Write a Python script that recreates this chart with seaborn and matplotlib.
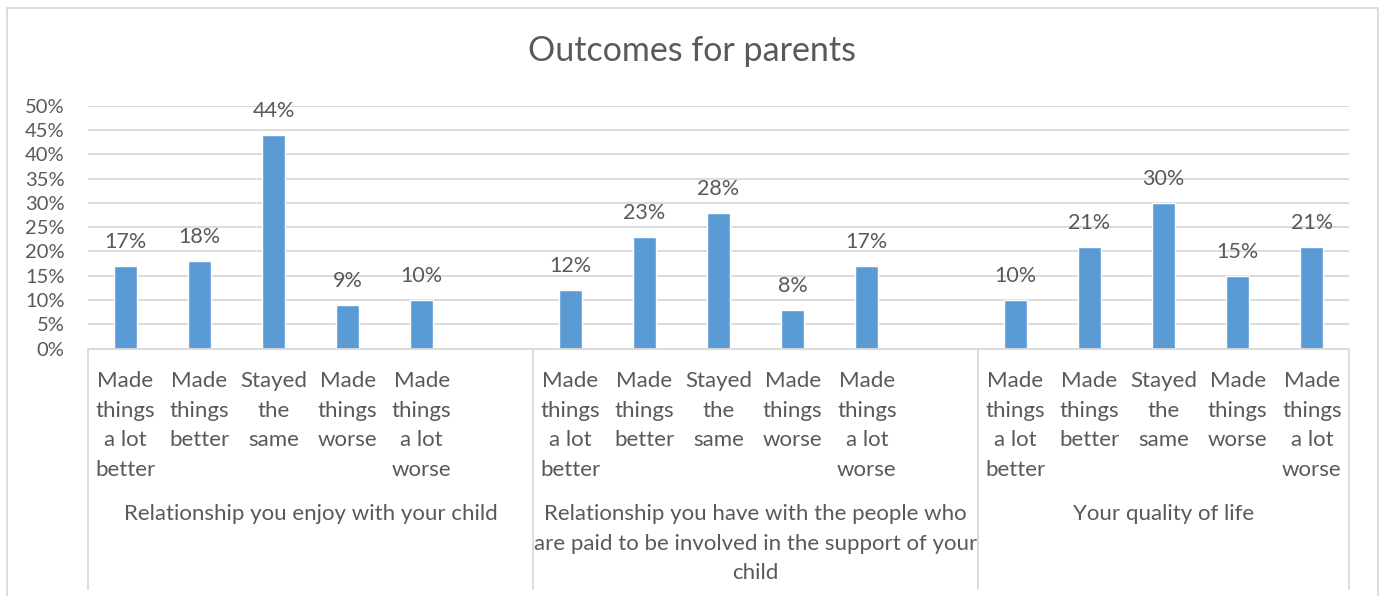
import matplotlib
matplotlib.use("Agg")
import matplotlib.pyplot as plt
import matplotlib.transforms as mtransforms
from matplotlib.lines import Line2D
import seaborn as sns
import pandas as pd

# Survey results (percent of parents)
groups = [
    "Relationship you enjoy with your child",
    "Relationship you have with the people who\nare paid to be involved in the support of your\nchild",
    "Your quality of life",
]
responses = [
    "Made\nthings\na lot\nbetter",
    "Made\nthings\nbetter",
    "Stayed\nthe\nsame",
    "Made\nthings\nworse",
    "Made\nthings\na lot\nworse",
]
values_child = [17, 18, 44, 9, 10]
values_support = [12, 23, 28, 8, 17]
values_quality = [10, 21, 30, 15, 21]
y_ticks = [0, 5, 10, 15, 20, 25, 30, 35, 40, 45, 50]
title = "Outcomes for parents"

sns.set_theme(style="white")
plt.rcParams["font.family"] = ["Lato", "DejaVu Sans"]

TEXT = "#595959"
GRID = "#D9D9D9"
BAR = "#5B9BD5"

# Long-form table; a blank slot follows each group except the last
rows, order = [], []
for gi, (grp, vals) in enumerate(zip(groups, [values_child, values_support, values_quality])):
    for ri, (resp, v) in enumerate(zip(responses, vals)):
        key = f"{gi}-{ri}"
        rows.append({"slot": key, "value": v / 100, "group": grp, "response": resp})
        order.append(key)
    if gi < len(groups) - 1:
        order.append(f"{gi}-gap")
df = pd.DataFrame(rows)

W, H = 1383, 596
fig = plt.figure(figsize=(W / 100, H / 100), dpi=100)
fig.patch.set_facecolor("white")
ax_left, ax_right, ax_bottom, ax_top = 88, 1349, 348.5, 105.7
ax = fig.add_axes([ax_left / W, 1 - ax_bottom / H, (ax_right - ax_left) / W, (ax_bottom - ax_top) / H])

sns.barplot(data=df, x="slot", y="value", order=order, color=BAR, width=0.31,
            saturation=1, errorbar=None, ax=ax, zorder=3)

ax.set_xlim(-0.5, len(order) - 0.5)
ax.set_ylim(0, 0.5)
ax.set_yticks([t / 100 for t in y_ticks])
ax.set_yticklabels([f"{t}%" for t in y_ticks], color=TEXT, fontsize=14.5)
ax.tick_params(axis="y", length=0, pad=17)
ax.set_xticks([])
ax.set_xlabel("")
ax.set_ylabel("")
ax.grid(axis="y", color=GRID, linewidth=1.3, zorder=0)
for s in ax.spines.values():
    s.set_visible(False)

for cont in ax.containers:
    ax.bar_label(cont, labels=[f"{v * 100:.0f}%" for v in cont.datavalues],
                 padding=10, color=TEXT, fontsize=15.5)

def fy(py):
    return 1 - py / H

fig.text(692 / W, fy(51), title, color=TEXT, fontsize=24.5, ha="center", va="center")

# Multi-level category axis
tr = mtransforms.blended_transform_factory(ax.transData, fig.transFigure)

for key, resp in zip(df["slot"], df["response"]):
    ax.text(order.index(key), fy(371), resp, transform=tr, ha="center", va="top",
            color=TEXT, fontsize=16, linespacing=1.6, clip_on=False)

bounds = [-0.5]
pos = -0.5
for gi in range(len(groups)):
    n = len(responses) + (1 if gi < len(groups) - 1 else 0)
    pos += n
    bounds.append(pos)
for gi, grp in enumerate(groups):
    cx = (bounds[gi] + bounds[gi + 1]) / 2
    ax.text(cx, fy(504), grp, transform=tr, ha="center", va="top",
            color=TEXT, fontsize=16, linespacing=1.6, clip_on=False)

ax.add_line(Line2D([bounds[0], bounds[-1]], [fy(ax_bottom)] * 2, transform=tr,
                   color=GRID, linewidth=1.3, clip_on=False, zorder=4))
for b in bounds:
    ax.add_line(Line2D([b, b], [fy(ax_bottom), fy(589)], transform=tr,
                       color=GRID, linewidth=1.3, clip_on=False))

# Chart frame
for xs, ys in [([7, 7], [8, H + 2]), ([7, 1378], [8, 8]), ([1378, 1378], [8, H + 2])]:
    fig.add_artist(Line2D([x / W for x in xs], [fy(y) for y in ys], color=GRID, linewidth=1.3))

fig.savefig("out.png", dpi=100, facecolor="white")
